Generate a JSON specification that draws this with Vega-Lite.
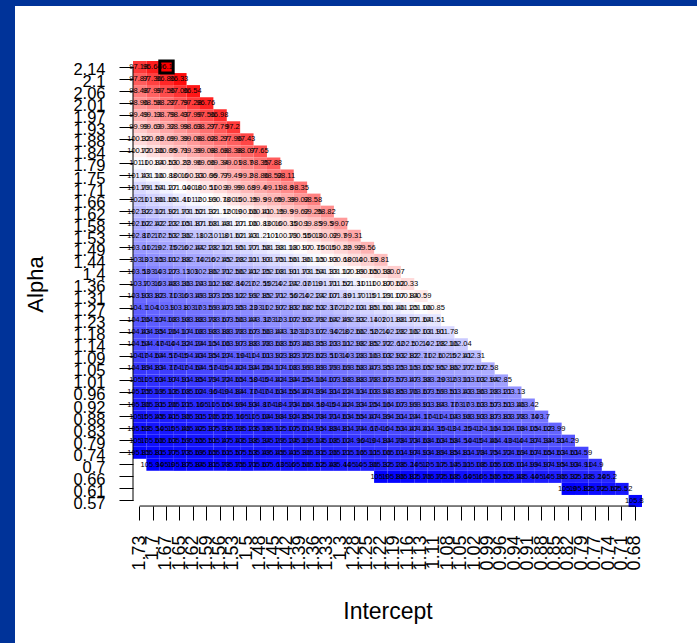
{"$schema":"https://vega.github.io/schema/vega-lite/v6.json","width":682,"height":637,"autosize":{"type":"none"},"padding":{"left":15,"top":6,"right":0,"bottom":0},"background":"#003399","view":{"fill":"white","stroke":null},"config":{"font":"Liberation Sans"},
"datasets":{"lines":[{"i":"1.73","a":"2.14","a2":"0.57","i2":"0.68"}],"cells":[
{"a":"2.14","i":"1.73","v":97.18},{"a":"2.14","i":"1.7","v":96.64},{"a":"2.14","i":"1.67","v":96.1},
{"a":"2.1","i":"1.73","v":97.87},{"a":"2.1","i":"1.7","v":97.36},{"a":"2.1","i":"1.67","v":96.86},{"a":"2.1","i":"1.65","v":96.33},
{"a":"2.06","i":"1.73","v":98.48},{"a":"2.06","i":"1.7","v":97.99},{"a":"2.06","i":"1.67","v":97.56},{"a":"2.06","i":"1.65","v":97.06},{"a":"2.06","i":"1.62","v":96.54},
{"a":"2.01","i":"1.73","v":98.96},{"a":"2.01","i":"1.7","v":98.58},{"a":"2.01","i":"1.67","v":98.22},{"a":"2.01","i":"1.65","v":97.79},{"a":"2.01","i":"1.62","v":97.28},{"a":"2.01","i":"1.59","v":96.76},
{"a":"1.97","i":"1.73","v":99.49},{"a":"1.97","i":"1.7","v":99.13},{"a":"1.97","i":"1.67","v":98.79},{"a":"1.97","i":"1.65","v":98.43},{"a":"1.97","i":"1.62","v":97.99},{"a":"1.97","i":"1.59","v":97.56},{"a":"1.97","i":"1.56","v":96.98},
{"a":"1.93","i":"1.73","v":99.99},{"a":"1.93","i":"1.7","v":99.63},{"a":"1.93","i":"1.67","v":99.32},{"a":"1.93","i":"1.65","v":98.99},{"a":"1.93","i":"1.62","v":98.63},{"a":"1.93","i":"1.59","v":98.27},{"a":"1.93","i":"1.56","v":97.79},{"a":"1.93","i":"1.53","v":97.2},
{"a":"1.88","i":"1.73","v":100.32},{"a":"1.88","i":"1.7","v":100.02},{"a":"1.88","i":"1.67","v":99.69},{"a":"1.88","i":"1.65","v":99.39},{"a":"1.88","i":"1.62","v":99.08},{"a":"1.88","i":"1.59","v":98.62},{"a":"1.88","i":"1.56","v":98.27},{"a":"1.88","i":"1.53","v":97.96},{"a":"1.88","i":"1.5","v":97.43},
{"a":"1.84","i":"1.73","v":100.72},{"a":"1.84","i":"1.7","v":100.36},{"a":"1.84","i":"1.67","v":100.05},{"a":"1.84","i":"1.65","v":99.71},{"a":"1.84","i":"1.62","v":99.39},{"a":"1.84","i":"1.59","v":99.08},{"a":"1.84","i":"1.56","v":98.68},{"a":"1.84","i":"1.53","v":98.38},{"a":"1.84","i":"1.5","v":98.07},{"a":"1.84","i":"1.48","v":97.65},
{"a":"1.79","i":"1.73","v":101.1},{"a":"1.79","i":"1.7","v":100.84},{"a":"1.79","i":"1.67","v":100.53},{"a":"1.79","i":"1.65","v":100.22},{"a":"1.79","i":"1.62","v":99.96},{"a":"1.79","i":"1.59","v":99.66},{"a":"1.79","i":"1.56","v":99.34},{"a":"1.79","i":"1.53","v":99.01},{"a":"1.79","i":"1.5","v":98.7},{"a":"1.79","i":"1.48","v":98.35},{"a":"1.79","i":"1.45","v":97.88},
{"a":"1.75","i":"1.73","v":101.43},{"a":"1.75","i":"1.7","v":101.16},{"a":"1.75","i":"1.67","v":100.88},{"a":"1.75","i":"1.65","v":100.6},{"a":"1.75","i":"1.62","v":100.33},{"a":"1.75","i":"1.59","v":100.06},{"a":"1.75","i":"1.56","v":99.77},{"a":"1.75","i":"1.53","v":99.49},{"a":"1.75","i":"1.5","v":99.2},{"a":"1.75","i":"1.48","v":98.86},{"a":"1.75","i":"1.45","v":98.52},{"a":"1.75","i":"1.42","v":98.11},
{"a":"1.71","i":"1.73","v":101.79},{"a":"1.71","i":"1.7","v":101.54},{"a":"1.71","i":"1.67","v":101.27},{"a":"1.71","i":"1.65","v":101.04},{"a":"1.71","i":"1.62","v":100.8},{"a":"1.71","i":"1.59","v":100.51},{"a":"1.71","i":"1.56","v":100.3},{"a":"1.71","i":"1.53","v":99.99},{"a":"1.71","i":"1.5","v":99.68},{"a":"1.71","i":"1.48","v":99.4},{"a":"1.71","i":"1.45","v":99.11},{"a":"1.71","i":"1.42","v":98.8},{"a":"1.71","i":"1.39","v":98.35},
{"a":"1.66","i":"1.73","v":102.1},{"a":"1.66","i":"1.7","v":101.86},{"a":"1.66","i":"1.67","v":101.65},{"a":"1.66","i":"1.65","v":101.41},{"a":"1.66","i":"1.62","v":101.2},{"a":"1.66","i":"1.59","v":100.99},{"a":"1.66","i":"1.56","v":100.78},{"a":"1.66","i":"1.53","v":100.5},{"a":"1.66","i":"1.5","v":100.15},{"a":"1.66","i":"1.48","v":99.9},{"a":"1.66","i":"1.45","v":99.65},{"a":"1.66","i":"1.42","v":99.39},{"a":"1.66","i":"1.39","v":99.02},{"a":"1.66","i":"1.36","v":98.58},
{"a":"1.62","i":"1.73","v":102.32},{"a":"1.62","i":"1.7","v":102.12},{"a":"1.62","i":"1.67","v":101.92},{"a":"1.62","i":"1.65","v":101.73},{"a":"1.62","i":"1.62","v":101.52},{"a":"1.62","i":"1.59","v":101.32},{"a":"1.62","i":"1.56","v":101.12},{"a":"1.62","i":"1.53","v":100.9},{"a":"1.62","i":"1.5","v":100.66},{"a":"1.62","i":"1.48","v":100.41},{"a":"1.62","i":"1.45","v":100.15},{"a":"1.62","i":"1.42","v":99.9},{"a":"1.62","i":"1.39","v":99.62},{"a":"1.62","i":"1.36","v":99.25},{"a":"1.62","i":"1.33","v":98.82},
{"a":"1.58","i":"1.73","v":102.62},{"a":"1.58","i":"1.7","v":102.42},{"a":"1.58","i":"1.67","v":102.23},{"a":"1.58","i":"1.65","v":102.05},{"a":"1.58","i":"1.62","v":101.87},{"a":"1.58","i":"1.59","v":101.68},{"a":"1.58","i":"1.56","v":101.48},{"a":"1.58","i":"1.53","v":101.27},{"a":"1.58","i":"1.5","v":101.06},{"a":"1.58","i":"1.48","v":100.83},{"a":"1.58","i":"1.45","v":100.6},{"a":"1.58","i":"1.42","v":100.35},{"a":"1.58","i":"1.39","v":100.1},{"a":"1.58","i":"1.36","v":99.85},{"a":"1.58","i":"1.33","v":99.5},{"a":"1.58","i":"1.3","v":99.07},
{"a":"1.53","i":"1.73","v":102.87},{"a":"1.53","i":"1.7","v":102.7},{"a":"1.53","i":"1.67","v":102.53},{"a":"1.53","i":"1.65","v":102.36},{"a":"1.53","i":"1.62","v":102.18},{"a":"1.53","i":"1.59","v":102},{"a":"1.53","i":"1.56","v":101.8},{"a":"1.53","i":"1.53","v":101.62},{"a":"1.53","i":"1.5","v":101.43},{"a":"1.53","i":"1.48","v":101.21},{"a":"1.53","i":"1.45","v":101},{"a":"1.53","i":"1.42","v":100.79},{"a":"1.53","i":"1.39","v":100.55},{"a":"1.53","i":"1.36","v":100.3},{"a":"1.53","i":"1.33","v":100.02},{"a":"1.53","i":"1.3","v":99.7},{"a":"1.53","i":"1.28","v":99.31},
{"a":"1.49","i":"1.73","v":103.01},{"a":"1.49","i":"1.7","v":102.9},{"a":"1.49","i":"1.67","v":102.75},{"a":"1.49","i":"1.65","v":102.6},{"a":"1.49","i":"1.62","v":102.44},{"a":"1.49","i":"1.59","v":102.28},{"a":"1.49","i":"1.56","v":102.12},{"a":"1.49","i":"1.53","v":101.95},{"a":"1.49","i":"1.5","v":101.77},{"a":"1.49","i":"1.48","v":101.58},{"a":"1.49","i":"1.45","v":101.38},{"a":"1.49","i":"1.42","v":101.18},{"a":"1.49","i":"1.39","v":100.97},{"a":"1.49","i":"1.36","v":100.75},{"a":"1.49","i":"1.33","v":100.5},{"a":"1.49","i":"1.3","v":100.22},{"a":"1.49","i":"1.28","v":99.92},{"a":"1.49","i":"1.25","v":99.56},
{"a":"1.44","i":"1.73","v":103.3},{"a":"1.44","i":"1.7","v":103.15},{"a":"1.44","i":"1.67","v":103.01},{"a":"1.44","i":"1.65","v":102.88},{"a":"1.44","i":"1.62","v":102.74},{"a":"1.44","i":"1.59","v":102.6},{"a":"1.44","i":"1.56","v":102.45},{"a":"1.44","i":"1.53","v":102.28},{"a":"1.44","i":"1.5","v":102.11},{"a":"1.44","i":"1.48","v":101.93},{"a":"1.44","i":"1.45","v":101.75},{"a":"1.44","i":"1.42","v":101.56},{"a":"1.44","i":"1.39","v":101.36},{"a":"1.44","i":"1.36","v":101.15},{"a":"1.44","i":"1.33","v":100.93},{"a":"1.44","i":"1.3","v":100.68},{"a":"1.44","i":"1.28","v":100.4},{"a":"1.44","i":"1.25","v":100.13},{"a":"1.44","i":"1.22","v":99.81},
{"a":"1.4","i":"1.73","v":103.53},{"a":"1.4","i":"1.7","v":103.4},{"a":"1.4","i":"1.67","v":103.27},{"a":"1.4","i":"1.65","v":103.13},{"a":"1.4","i":"1.62","v":103},{"a":"1.4","i":"1.59","v":102.86},{"a":"1.4","i":"1.56","v":102.71},{"a":"1.4","i":"1.53","v":102.56},{"a":"1.4","i":"1.5","v":102.41},{"a":"1.4","i":"1.48","v":102.25},{"a":"1.4","i":"1.45","v":102.08},{"a":"1.4","i":"1.42","v":101.91},{"a":"1.4","i":"1.39","v":101.73},{"a":"1.4","i":"1.36","v":101.54},{"a":"1.4","i":"1.33","v":101.33},{"a":"1.4","i":"1.3","v":101.12},{"a":"1.4","i":"1.28","v":100.89},{"a":"1.4","i":"1.25","v":100.65},{"a":"1.4","i":"1.22","v":100.38},{"a":"1.4","i":"1.19","v":100.07},
{"a":"1.36","i":"1.73","v":103.7},{"a":"1.36","i":"1.7","v":103.6},{"a":"1.36","i":"1.67","v":103.48},{"a":"1.36","i":"1.65","v":103.36},{"a":"1.36","i":"1.62","v":103.24},{"a":"1.36","i":"1.59","v":103.11},{"a":"1.36","i":"1.56","v":102.98},{"a":"1.36","i":"1.53","v":102.84},{"a":"1.36","i":"1.5","v":102.7},{"a":"1.36","i":"1.48","v":102.55},{"a":"1.36","i":"1.45","v":102.4},{"a":"1.36","i":"1.42","v":102.24},{"a":"1.36","i":"1.39","v":102.07},{"a":"1.36","i":"1.36","v":101.9},{"a":"1.36","i":"1.33","v":101.71},{"a":"1.36","i":"1.3","v":101.52},{"a":"1.36","i":"1.28","v":101.31},{"a":"1.36","i":"1.25","v":101.1},{"a":"1.36","i":"1.22","v":100.87},{"a":"1.36","i":"1.19","v":100.62},{"a":"1.36","i":"1.16","v":100.33},
{"a":"1.31","i":"1.73","v":103.93},{"a":"1.31","i":"1.7","v":103.82},{"a":"1.31","i":"1.67","v":103.71},{"a":"1.31","i":"1.65","v":103.6},{"a":"1.31","i":"1.62","v":103.49},{"a":"1.31","i":"1.59","v":103.37},{"a":"1.31","i":"1.56","v":103.25},{"a":"1.31","i":"1.53","v":103.12},{"a":"1.31","i":"1.5","v":102.99},{"a":"1.31","i":"1.48","v":102.85},{"a":"1.31","i":"1.45","v":102.71},{"a":"1.31","i":"1.42","v":102.56},{"a":"1.31","i":"1.39","v":102.4},{"a":"1.31","i":"1.36","v":102.24},{"a":"1.31","i":"1.33","v":102.07},{"a":"1.31","i":"1.3","v":101.89},{"a":"1.31","i":"1.28","v":101.7},{"a":"1.31","i":"1.25","v":101.5},{"a":"1.31","i":"1.22","v":101.29},{"a":"1.31","i":"1.19","v":101.07},{"a":"1.31","i":"1.16","v":100.84},{"a":"1.31","i":"1.13","v":100.59},
{"a":"1.27","i":"1.73","v":104.1},{"a":"1.27","i":"1.7","v":104},{"a":"1.27","i":"1.67","v":103.9},{"a":"1.27","i":"1.65","v":103.8},{"a":"1.27","i":"1.62","v":103.7},{"a":"1.27","i":"1.59","v":103.59},{"a":"1.27","i":"1.56","v":103.47},{"a":"1.27","i":"1.53","v":103.35},{"a":"1.27","i":"1.5","v":103.23},{"a":"1.27","i":"1.48","v":103.1},{"a":"1.27","i":"1.45","v":102.97},{"a":"1.27","i":"1.42","v":102.83},{"a":"1.27","i":"1.39","v":102.68},{"a":"1.27","i":"1.36","v":102.53},{"a":"1.27","i":"1.33","v":102.37},{"a":"1.27","i":"1.3","v":102.2},{"a":"1.27","i":"1.28","v":102.03},{"a":"1.27","i":"1.25","v":101.85},{"a":"1.27","i":"1.22","v":101.66},{"a":"1.27","i":"1.19","v":101.46},{"a":"1.27","i":"1.16","v":101.25},{"a":"1.27","i":"1.13","v":101.06},{"a":"1.27","i":"1.11","v":100.85},
{"a":"1.23","i":"1.73","v":104.26},{"a":"1.23","i":"1.7","v":104.17},{"a":"1.23","i":"1.67","v":104.08},{"a":"1.23","i":"1.65","v":103.98},{"a":"1.23","i":"1.62","v":103.88},{"a":"1.23","i":"1.59","v":103.78},{"a":"1.23","i":"1.56","v":103.67},{"a":"1.23","i":"1.53","v":103.56},{"a":"1.23","i":"1.5","v":103.44},{"a":"1.23","i":"1.48","v":103.32},{"a":"1.23","i":"1.45","v":103.2},{"a":"1.23","i":"1.42","v":103.07},{"a":"1.23","i":"1.39","v":102.93},{"a":"1.23","i":"1.36","v":102.79},{"a":"1.23","i":"1.33","v":102.64},{"a":"1.23","i":"1.3","v":102.49},{"a":"1.23","i":"1.28","v":102.33},{"a":"1.23","i":"1.25","v":102.14},{"a":"1.23","i":"1.22","v":102},{"a":"1.23","i":"1.19","v":101.88},{"a":"1.23","i":"1.16","v":101.77},{"a":"1.23","i":"1.13","v":101.64},{"a":"1.23","i":"1.11","v":101.51},
{"a":"1.18","i":"1.73","v":104.43},{"a":"1.18","i":"1.7","v":104.35},{"a":"1.18","i":"1.67","v":104.26},{"a":"1.18","i":"1.65","v":104.17},{"a":"1.18","i":"1.62","v":104.08},{"a":"1.18","i":"1.59","v":103.98},{"a":"1.18","i":"1.56","v":103.88},{"a":"1.18","i":"1.53","v":103.78},{"a":"1.18","i":"1.5","v":103.67},{"a":"1.18","i":"1.48","v":103.56},{"a":"1.18","i":"1.45","v":103.44},{"a":"1.18","i":"1.42","v":103.32},{"a":"1.18","i":"1.39","v":103.2},{"a":"1.18","i":"1.36","v":103.07},{"a":"1.18","i":"1.33","v":102.94},{"a":"1.18","i":"1.3","v":102.8},{"a":"1.18","i":"1.28","v":102.66},{"a":"1.18","i":"1.25","v":102.52},{"a":"1.18","i":"1.22","v":102.4},{"a":"1.18","i":"1.19","v":102.28},{"a":"1.18","i":"1.16","v":102.16},{"a":"1.18","i":"1.13","v":102.03},{"a":"1.18","i":"1.11","v":101.91},{"a":"1.18","i":"1.08","v":101.78},
{"a":"1.14","i":"1.73","v":104.54},{"a":"1.14","i":"1.7","v":104.47},{"a":"1.14","i":"1.67","v":104.4},{"a":"1.14","i":"1.65","v":104.32},{"a":"1.14","i":"1.62","v":104.24},{"a":"1.14","i":"1.59","v":104.15},{"a":"1.14","i":"1.56","v":104.06},{"a":"1.14","i":"1.53","v":103.97},{"a":"1.14","i":"1.5","v":103.88},{"a":"1.14","i":"1.48","v":103.78},{"a":"1.14","i":"1.45","v":103.68},{"a":"1.14","i":"1.42","v":103.57},{"a":"1.14","i":"1.39","v":103.46},{"a":"1.14","i":"1.36","v":103.35},{"a":"1.14","i":"1.33","v":103.23},{"a":"1.14","i":"1.3","v":103.11},{"a":"1.14","i":"1.28","v":102.98},{"a":"1.14","i":"1.25","v":102.85},{"a":"1.14","i":"1.22","v":102.72},{"a":"1.14","i":"1.19","v":102.62},{"a":"1.14","i":"1.16","v":102.5},{"a":"1.14","i":"1.13","v":102.4},{"a":"1.14","i":"1.11","v":102.28},{"a":"1.14","i":"1.08","v":102.16},{"a":"1.14","i":"1.05","v":102.04},
{"a":"1.09","i":"1.73","v":104.7},{"a":"1.09","i":"1.7","v":104.64},{"a":"1.09","i":"1.67","v":104.57},{"a":"1.09","i":"1.65","v":104.5},{"a":"1.09","i":"1.62","v":104.43},{"a":"1.09","i":"1.59","v":104.35},{"a":"1.09","i":"1.56","v":104.27},{"a":"1.09","i":"1.53","v":104.19},{"a":"1.09","i":"1.5","v":104.1},{"a":"1.09","i":"1.48","v":104.01},{"a":"1.09","i":"1.45","v":103.92},{"a":"1.09","i":"1.42","v":103.82},{"a":"1.09","i":"1.39","v":103.72},{"a":"1.09","i":"1.36","v":103.62},{"a":"1.09","i":"1.33","v":103.51},{"a":"1.09","i":"1.3","v":103.4},{"a":"1.09","i":"1.28","v":103.28},{"a":"1.09","i":"1.25","v":103.16},{"a":"1.09","i":"1.22","v":103.03},{"a":"1.09","i":"1.19","v":102.93},{"a":"1.09","i":"1.16","v":102.82},{"a":"1.09","i":"1.13","v":102.71},{"a":"1.09","i":"1.11","v":102.6},{"a":"1.09","i":"1.08","v":102.5},{"a":"1.09","i":"1.05","v":102.41},{"a":"1.09","i":"1.02","v":102.31},
{"a":"1.05","i":"1.73","v":104.89},{"a":"1.05","i":"1.7","v":104.83},{"a":"1.05","i":"1.67","v":104.77},{"a":"1.05","i":"1.65","v":104.7},{"a":"1.05","i":"1.62","v":104.64},{"a":"1.05","i":"1.59","v":104.57},{"a":"1.05","i":"1.56","v":104.5},{"a":"1.05","i":"1.53","v":104.42},{"a":"1.05","i":"1.5","v":104.34},{"a":"1.05","i":"1.48","v":104.26},{"a":"1.05","i":"1.45","v":104.17},{"a":"1.05","i":"1.42","v":104.08},{"a":"1.05","i":"1.39","v":103.99},{"a":"1.05","i":"1.36","v":103.89},{"a":"1.05","i":"1.33","v":103.79},{"a":"1.05","i":"1.3","v":103.69},{"a":"1.05","i":"1.28","v":103.58},{"a":"1.05","i":"1.25","v":103.47},{"a":"1.05","i":"1.22","v":103.35},{"a":"1.05","i":"1.19","v":103.25},{"a":"1.05","i":"1.16","v":103.15},{"a":"1.05","i":"1.13","v":103.05},{"a":"1.05","i":"1.11","v":102.95},{"a":"1.05","i":"1.08","v":102.86},{"a":"1.05","i":"1.05","v":102.77},{"a":"1.05","i":"1.02","v":102.67},{"a":"1.05","i":"0.99","v":102.58},
{"a":"1.01","i":"1.73","v":105.1},{"a":"1.01","i":"1.7","v":105.03},{"a":"1.01","i":"1.67","v":104.97},{"a":"1.01","i":"1.65","v":104.91},{"a":"1.01","i":"1.62","v":104.85},{"a":"1.01","i":"1.59","v":104.79},{"a":"1.01","i":"1.56","v":104.72},{"a":"1.01","i":"1.53","v":104.65},{"a":"1.01","i":"1.5","v":104.58},{"a":"1.01","i":"1.48","v":104.5},{"a":"1.01","i":"1.45","v":104.42},{"a":"1.01","i":"1.42","v":104.34},{"a":"1.01","i":"1.39","v":104.25},{"a":"1.01","i":"1.36","v":104.16},{"a":"1.01","i":"1.33","v":104.07},{"a":"1.01","i":"1.3","v":103.98},{"a":"1.01","i":"1.28","v":103.88},{"a":"1.01","i":"1.25","v":103.78},{"a":"1.01","i":"1.22","v":103.67},{"a":"1.01","i":"1.19","v":103.57},{"a":"1.01","i":"1.16","v":103.47},{"a":"1.01","i":"1.13","v":103.38},{"a":"1.01","i":"1.11","v":103.29},{"a":"1.01","i":"1.08","v":103.2},{"a":"1.01","i":"1.05","v":103.11},{"a":"1.01","i":"1.02","v":103.03},{"a":"1.01","i":"0.99","v":102.94},{"a":"1.01","i":"0.96","v":102.85},
{"a":"0.96","i":"1.73","v":105.25},{"a":"0.96","i":"1.7","v":105.19},{"a":"0.96","i":"1.67","v":105.13},{"a":"0.96","i":"1.65","v":105.08},{"a":"0.96","i":"1.62","v":105.02},{"a":"0.96","i":"1.59","v":104.96},{"a":"0.96","i":"1.56","v":104.9},{"a":"0.96","i":"1.53","v":104.84},{"a":"0.96","i":"1.5","v":104.77},{"a":"0.96","i":"1.48","v":104.7},{"a":"0.96","i":"1.45","v":104.63},{"a":"0.96","i":"1.42","v":104.55},{"a":"0.96","i":"1.39","v":104.47},{"a":"0.96","i":"1.36","v":104.39},{"a":"0.96","i":"1.33","v":104.31},{"a":"0.96","i":"1.3","v":104.22},{"a":"0.96","i":"1.28","v":104.13},{"a":"0.96","i":"1.25","v":104.03},{"a":"0.96","i":"1.22","v":103.94},{"a":"0.96","i":"1.19","v":103.85},{"a":"0.96","i":"1.16","v":103.76},{"a":"0.96","i":"1.13","v":103.67},{"a":"0.96","i":"1.11","v":103.59},{"a":"0.96","i":"1.08","v":103.51},{"a":"0.96","i":"1.05","v":103.43},{"a":"0.96","i":"1.02","v":103.36},{"a":"0.96","i":"0.99","v":103.28},{"a":"0.96","i":"0.96","v":103.21},{"a":"0.96","i":"0.94","v":103.13},
{"a":"0.92","i":"1.73","v":105.36},{"a":"0.92","i":"1.7","v":105.31},{"a":"0.92","i":"1.67","v":105.26},{"a":"0.92","i":"1.65","v":105.21},{"a":"0.92","i":"1.62","v":105.16},{"a":"0.92","i":"1.59","v":105.1},{"a":"0.92","i":"1.56","v":105.05},{"a":"0.92","i":"1.53","v":104.99},{"a":"0.92","i":"1.5","v":104.93},{"a":"0.92","i":"1.48","v":104.87},{"a":"0.92","i":"1.45","v":104.8},{"a":"0.92","i":"1.42","v":104.73},{"a":"0.92","i":"1.39","v":104.66},{"a":"0.92","i":"1.36","v":104.58},{"a":"0.92","i":"1.33","v":104.5},{"a":"0.92","i":"1.3","v":104.42},{"a":"0.92","i":"1.28","v":104.33},{"a":"0.92","i":"1.25","v":104.25},{"a":"0.92","i":"1.22","v":104.16},{"a":"0.92","i":"1.19","v":104.07},{"a":"0.92","i":"1.16","v":103.99},{"a":"0.92","i":"1.13","v":103.91},{"a":"0.92","i":"1.11","v":103.84},{"a":"0.92","i":"1.08","v":103.77},{"a":"0.92","i":"1.05","v":103.7},{"a":"0.92","i":"1.02","v":103.63},{"a":"0.92","i":"0.99","v":103.57},{"a":"0.92","i":"0.96","v":103.51},{"a":"0.92","i":"0.94","v":103.46},{"a":"0.92","i":"0.91","v":103.42},
{"a":"0.88","i":"1.73","v":105.5},{"a":"0.88","i":"1.7","v":105.45},{"a":"0.88","i":"1.67","v":105.41},{"a":"0.88","i":"1.65","v":105.36},{"a":"0.88","i":"1.62","v":105.31},{"a":"0.88","i":"1.59","v":105.26},{"a":"0.88","i":"1.56","v":105.21},{"a":"0.88","i":"1.53","v":105.16},{"a":"0.88","i":"1.5","v":105.1},{"a":"0.88","i":"1.48","v":105.04},{"a":"0.88","i":"1.45","v":104.98},{"a":"0.88","i":"1.42","v":104.92},{"a":"0.88","i":"1.39","v":104.85},{"a":"0.88","i":"1.36","v":104.78},{"a":"0.88","i":"1.33","v":104.71},{"a":"0.88","i":"1.3","v":104.63},{"a":"0.88","i":"1.28","v":104.55},{"a":"0.88","i":"1.25","v":104.47},{"a":"0.88","i":"1.22","v":104.39},{"a":"0.88","i":"1.19","v":104.31},{"a":"0.88","i":"1.16","v":104.24},{"a":"0.88","i":"1.13","v":104.17},{"a":"0.88","i":"1.11","v":104.1},{"a":"0.88","i":"1.08","v":104.04},{"a":"0.88","i":"1.05","v":103.98},{"a":"0.88","i":"1.02","v":103.93},{"a":"0.88","i":"0.99","v":103.87},{"a":"0.88","i":"0.96","v":103.83},{"a":"0.88","i":"0.94","v":103.78},{"a":"0.88","i":"0.91","v":103.74},{"a":"0.88","i":"0.88","v":103.7},
{"a":"0.83","i":"1.73","v":105.58},{"a":"0.83","i":"1.7","v":105.54},{"a":"0.83","i":"1.67","v":105.5},{"a":"0.83","i":"1.65","v":105.46},{"a":"0.83","i":"1.62","v":105.42},{"a":"0.83","i":"1.59","v":105.37},{"a":"0.83","i":"1.56","v":105.33},{"a":"0.83","i":"1.53","v":105.28},{"a":"0.83","i":"1.5","v":105.23},{"a":"0.83","i":"1.48","v":105.18},{"a":"0.83","i":"1.45","v":105.12},{"a":"0.83","i":"1.42","v":105.07},{"a":"0.83","i":"1.39","v":105.01},{"a":"0.83","i":"1.36","v":104.95},{"a":"0.83","i":"1.33","v":104.88},{"a":"0.83","i":"1.3","v":104.81},{"a":"0.83","i":"1.28","v":104.74},{"a":"0.83","i":"1.25","v":104.67},{"a":"0.83","i":"1.22","v":104.6},{"a":"0.83","i":"1.19","v":104.53},{"a":"0.83","i":"1.16","v":104.47},{"a":"0.83","i":"1.13","v":104.41},{"a":"0.83","i":"1.11","v":104.35},{"a":"0.83","i":"1.08","v":104.3},{"a":"0.83","i":"1.05","v":104.25},{"a":"0.83","i":"1.02","v":104.2},{"a":"0.83","i":"0.99","v":104.16},{"a":"0.83","i":"0.96","v":104.12},{"a":"0.83","i":"0.94","v":104.08},{"a":"0.83","i":"0.91","v":104.05},{"a":"0.83","i":"0.88","v":104.02},{"a":"0.83","i":"0.85","v":103.99},
{"a":"0.79","i":"1.73","v":105.7},{"a":"0.79","i":"1.7","v":105.66},{"a":"0.79","i":"1.67","v":105.63},{"a":"0.79","i":"1.65","v":105.59},{"a":"0.79","i":"1.62","v":105.55},{"a":"0.79","i":"1.59","v":105.51},{"a":"0.79","i":"1.56","v":105.47},{"a":"0.79","i":"1.53","v":105.43},{"a":"0.79","i":"1.5","v":105.38},{"a":"0.79","i":"1.48","v":105.34},{"a":"0.79","i":"1.45","v":105.29},{"a":"0.79","i":"1.42","v":105.24},{"a":"0.79","i":"1.39","v":105.19},{"a":"0.79","i":"1.36","v":105.14},{"a":"0.79","i":"1.33","v":105.08},{"a":"0.79","i":"1.3","v":105.02},{"a":"0.79","i":"1.28","v":104.96},{"a":"0.79","i":"1.25","v":104.9},{"a":"0.79","i":"1.22","v":104.84},{"a":"0.79","i":"1.19","v":104.78},{"a":"0.79","i":"1.16","v":104.73},{"a":"0.79","i":"1.13","v":104.68},{"a":"0.79","i":"1.11","v":104.63},{"a":"0.79","i":"1.08","v":104.58},{"a":"0.79","i":"1.05","v":104.54},{"a":"0.79","i":"1.02","v":104.5},{"a":"0.79","i":"0.99","v":104.46},{"a":"0.79","i":"0.96","v":104.43},{"a":"0.79","i":"0.94","v":104.4},{"a":"0.79","i":"0.91","v":104.37},{"a":"0.79","i":"0.88","v":104.34},{"a":"0.79","i":"0.85","v":104.31},{"a":"0.79","i":"0.82","v":104.29},
{"a":"0.74","i":"1.73","v":105.85},{"a":"0.74","i":"1.7","v":105.81},{"a":"0.74","i":"1.67","v":105.77},{"a":"0.74","i":"1.65","v":105.73},{"a":"0.74","i":"1.62","v":105.69},{"a":"0.74","i":"1.59","v":105.65},{"a":"0.74","i":"1.56","v":105.61},{"a":"0.74","i":"1.53","v":105.57},{"a":"0.74","i":"1.5","v":105.53},{"a":"0.74","i":"1.48","v":105.49},{"a":"0.74","i":"1.45","v":105.45},{"a":"0.74","i":"1.42","v":105.41},{"a":"0.74","i":"1.39","v":105.36},{"a":"0.74","i":"1.36","v":105.31},{"a":"0.74","i":"1.33","v":105.26},{"a":"0.74","i":"1.3","v":105.21},{"a":"0.74","i":"1.28","v":105.16},{"a":"0.74","i":"1.25","v":105.11},{"a":"0.74","i":"1.22","v":105.06},{"a":"0.74","i":"1.19","v":105.01},{"a":"0.74","i":"1.16","v":104.97},{"a":"0.74","i":"1.13","v":104.93},{"a":"0.74","i":"1.11","v":104.89},{"a":"0.74","i":"1.08","v":104.85},{"a":"0.74","i":"1.05","v":104.81},{"a":"0.74","i":"1.02","v":104.78},{"a":"0.74","i":"0.99","v":104.75},{"a":"0.74","i":"0.96","v":104.72},{"a":"0.74","i":"0.94","v":104.69},{"a":"0.74","i":"0.91","v":104.67},{"a":"0.74","i":"0.88","v":104.65},{"a":"0.74","i":"0.85","v":104.63},{"a":"0.74","i":"0.82","v":104.61},{"a":"0.74","i":"0.79","v":104.59},
{"a":"0.7","i":"1.7","v":105.94},{"a":"0.7","i":"1.67","v":105.9},{"a":"0.7","i":"1.65","v":105.87},{"a":"0.7","i":"1.62","v":105.84},{"a":"0.7","i":"1.59","v":105.81},{"a":"0.7","i":"1.56","v":105.78},{"a":"0.7","i":"1.53","v":105.75},{"a":"0.7","i":"1.5","v":105.71},{"a":"0.7","i":"1.48","v":105.67},{"a":"0.7","i":"1.45","v":105.63},{"a":"0.7","i":"1.42","v":105.6},{"a":"0.7","i":"1.39","v":105.56},{"a":"0.7","i":"1.36","v":105.52},{"a":"0.7","i":"1.33","v":105.48},{"a":"0.7","i":"1.3","v":105.44},{"a":"0.7","i":"1.28","v":105.4},{"a":"0.7","i":"1.25","v":105.36},{"a":"0.7","i":"1.22","v":105.32},{"a":"0.7","i":"1.19","v":105.28},{"a":"0.7","i":"1.16","v":105.24},{"a":"0.7","i":"1.13","v":105.2},{"a":"0.7","i":"1.11","v":105.17},{"a":"0.7","i":"1.08","v":105.14},{"a":"0.7","i":"1.05","v":105.11},{"a":"0.7","i":"1.02","v":105.08},{"a":"0.7","i":"0.99","v":105.05},{"a":"0.7","i":"0.96","v":105.03},{"a":"0.7","i":"0.94","v":105.01},{"a":"0.7","i":"0.91","v":104.99},{"a":"0.7","i":"0.88","v":104.97},{"a":"0.7","i":"0.85","v":104.95},{"a":"0.7","i":"0.82","v":104.93},{"a":"0.7","i":"0.79","v":104.91},{"a":"0.7","i":"0.77","v":104.9},
{"a":"0.66","i":"1.22","v":105.9},{"a":"0.66","i":"1.19","v":105.86},{"a":"0.66","i":"1.16","v":105.82},{"a":"0.66","i":"1.13","v":105.76},{"a":"0.66","i":"1.11","v":105.72},{"a":"0.66","i":"1.08","v":105.68},{"a":"0.66","i":"1.05","v":105.64},{"a":"0.66","i":"1.02","v":105.6},{"a":"0.66","i":"0.99","v":105.56},{"a":"0.66","i":"0.96","v":105.52},{"a":"0.66","i":"0.94","v":105.48},{"a":"0.66","i":"0.91","v":105.44},{"a":"0.66","i":"0.88","v":105.4},{"a":"0.66","i":"0.85","v":105.36},{"a":"0.66","i":"0.82","v":105.32},{"a":"0.66","i":"0.79","v":105.28},{"a":"0.66","i":"0.77","v":105.24},{"a":"0.66","i":"0.74","v":105.2},
{"a":"0.61","i":"0.82","v":105.9},{"a":"0.61","i":"0.79","v":105.82},{"a":"0.61","i":"0.77","v":105.72},{"a":"0.61","i":"0.74","v":105.62},{"a":"0.61","i":"0.71","v":105.52},
{"a":"0.57","i":"0.68","v":105.8}
]},
"data":{"name":"cells"},
"encoding":{
"x":{"field":"i","type":"ordinal","sort":null,"scale":{"range":[118,627],"paddingInner":0,"paddingOuter":0},"axis":{"title":"Intercept","offset":-137,"orient":"bottom","domain":false,"grid":false,"tickSize":14,"tickColor":"black","tickWidth":1,"labelAngle":-90,"labelAlign":"right","labelBaseline":"middle","labelFontSize":18,"labelColor":"black","labelPadding":15,"labelOverlap":false,"labelFlush":false,"titleFontSize":23,"titleFontWeight":"normal","titleColor":"black","titlePadding":30}},
"y":{"field":"a","type":"ordinal","sort":null,"scale":{"range":[55,501],"paddingInner":0,"paddingOuter":0},"axis":{"title":"Alpha","offset":-118,"orient":"left","domain":false,"grid":false,"tickSize":14,"tickColor":"black","tickWidth":1,"labelFontSize":16.5,"labelColor":"black","labelPadding":14,"labelOverlap":false,"labelFlush":false,"labelOffset":3,"titleFontSize":22,"titleFontWeight":"normal","titleColor":"black","titlePadding":25}}
},
"layer":[
{"mark":{"type":"rect"},"encoding":{"color":{"field":"v","type":"quantitative","legend":null,"scale":{"domain":[96.1,101.02,105.94],"range":["#ff0000","#ffffff","#0000ff"],"interpolate":"rgb"}}}},
{"transform":[{"filter":"datum.a=='2.14' && datum.i=='1.67'"}],"mark":{"type":"rect","filled":false,"stroke":"black","strokeWidth":3}},
{"mark":{"type":"text","fontSize":7.5,"color":"black","dx":-1},"encoding":{"text":{"field":"v","type":"quantitative"}}},
{"data":{"name":"lines"},"mark":{"type":"rule","color":"black","strokeWidth":1},"encoding":{"x":{"field":"i","type":"ordinal","sort":null,"bandPosition":0},"y":{"field":"a","type":"ordinal","sort":null},"y2":{"field":"a2"}}},
{"data":{"name":"lines"},"mark":{"type":"rule","color":"black","strokeWidth":1},"encoding":{"x":{"field":"i","type":"ordinal","sort":null},"x2":{"field":"i2"},"y":{"field":"a2","type":"ordinal","sort":null,"bandPosition":0.92}}}
]}
